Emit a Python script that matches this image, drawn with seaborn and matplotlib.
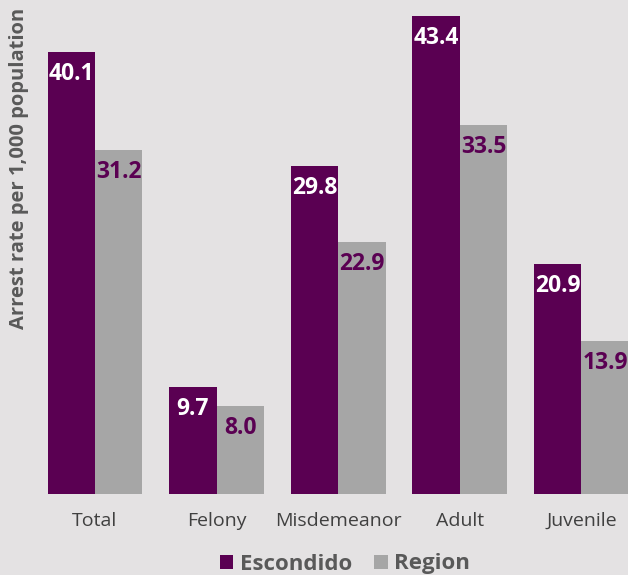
import matplotlib
matplotlib.use("Agg")
import matplotlib.pyplot as plt
from matplotlib.patches import Patch
import seaborn as sns
import pandas as pd

categories = ["Total", "Felony", "Misdemeanor", "Adult", "Juvenile"]
escondido = [40.1, 9.7, 29.8, 43.4, 20.9]
region = [31.2, 8.0, 22.9, 33.5, 13.9]
series_names = ["Escondido", "Region"]

PURPLE = "#5a0052"
GRAY = "#a6a6a6"
BG = "#e4e2e3"

df = pd.DataFrame({
    "category": categories * 2,
    "value": escondido + region,
    "series": [series_names[0]] * len(categories) + [series_names[1]] * len(categories),
})

sns.set_theme(style="white")
plt.rcParams["font.family"] = ["Open Sans", "DejaVu Sans"]

W, H = 628, 575
fig = plt.figure(figsize=(W / 100, H / 100), dpi=100, facecolor=BG)
ax = fig.add_axes([30 / W, (H - 494) / H, (W - 30) / W, 478 / H])
ax.set_facecolor(BG)

sns.barplot(data=df, x="category", y="value", hue="series", palette=[PURPLE, GRAY],
            width=0.78, saturation=1, dodge=True, ax=ax, legend=False, linewidth=0)

ax.set_xlim((30 - 95) / 121.6, (628 - 95) / 121.6)
ax.set_ylim(0, 43.4)
for s in ax.spines.values():
    s.set_visible(False)
ax.set_yticks([])
ax.set_xlabel("")
ax.set_ylabel("")
fig.text(19 / W, (H - 168) / H, "Arrest rate per 1,000 population", rotation=90,
         ha="center", va="center", fontsize=14.5, fontweight="bold", color="#595959")
ax.tick_params(axis="x", length=0, pad=13, labelsize=14, labelcolor="#404040")

for container, color in zip(ax.containers, ["white", PURPLE]):
    for rect in container:
        h = rect.get_height()
        ax.annotate(f"{h:.1f}", (rect.get_x() + rect.get_width() / 2, h),
                    xytext=(0, -22), textcoords="offset pixels",
                    ha="center", va="center", fontsize=16.5, fontweight="bold", color=color,
                    annotation_clip=False)

handles = [Patch(facecolor=PURPLE, edgecolor="none"), Patch(facecolor=GRAY, edgecolor="none")]
fig.legend(handles, series_names, loc="center", bbox_to_anchor=(345 / W, (H - 564) / H),
           ncol=2, frameon=False, handlelength=0.6, handleheight=0.6, handletextpad=0.3,
           columnspacing=1.0, prop={"weight": "bold", "size": 16}, labelcolor="#595959")

fig.savefig("out.png", dpi=100, facecolor=BG)
